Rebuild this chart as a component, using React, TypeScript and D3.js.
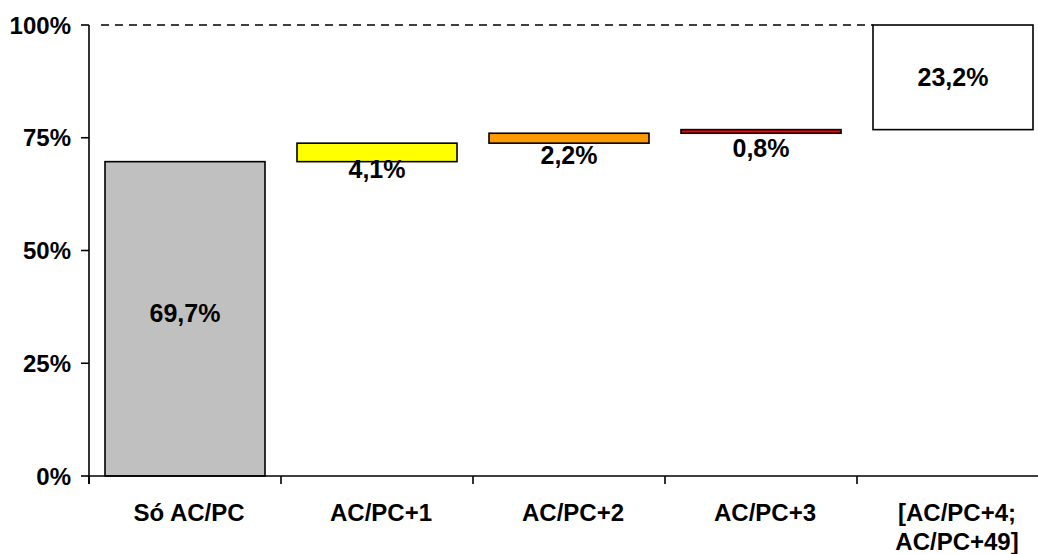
import React from "react";
import * as d3 from "d3";

// Share of cases by number of additional procedures (waterfall build-up to 100%)
const categories: string[][] = [
  ["Só AC/PC"],
  ["AC/PC+1"],
  ["AC/PC+2"],
  ["AC/PC+3"],
  ["[AC/PC+4;", "AC/PC+49]"],
];
const shares: number[] = [69.7, 4.1, 2.2, 0.8, 23.2];
const shareLabels: string[] = ["69,7%", "4,1%", "2,2%", "0,8%", "23,2%"];
const fills: string[] = ["#C0C0C0", "#FFFF00", "#FF9900", "#FF0000", "#FFFFFF"];
const yTicks: number[] = [0, 25, 50, 75, 100];
const yTickLabels: string[] = ["0%", "25%", "50%", "75%", "100%"];

const W = 1038;
const H = 554;
const FONT = "'Liberation Sans', Arial, Helvetica, sans-serif";

export default function App() {
  const x = d3
    .scaleBand<number>()
    .domain(d3.range(categories.length))
    .range([89, 1049])
    .paddingInner(1 / 6)
    .paddingOuter(1 / 12);
  const y = d3.scaleLinear().domain([0, 100]).range([476, 25]);

  const step = x.step();
  const halfGap = (step * x.paddingInner()) / 2;

  // cumulative bases for the waterfall segments
  const bases: number[] = [];
  shares.reduce((acc, v, i) => {
    bases[i] = acc;
    return acc + v;
  }, 0);

  const axisX = x.range()[0];

  return (
    <svg
      width={W}
      height={H}
      style={{ position: "absolute", left: 0, top: 0, background: "#fff" }}
      fontFamily={FONT}
    >
      {/* 100% reference line */}
      <line
        x1={axisX + 12}
        x2={x(4)!}
        y1={y(100)}
        y2={y(100)}
        stroke="#000"
        strokeWidth={1.6}
        strokeDasharray="8,6"
      />

      {/* bars */}
      {shares.map((v, i) => {
        const y0 = y(bases[i]);
        const y1 = y(bases[i] + v);
        return (
          <rect
            key={i}
            x={x(i)!}
            y={y1}
            width={x.bandwidth()}
            height={y0 - y1}
            fill={fills[i]}
            stroke="#000"
            strokeWidth={1.6}
          />
        );
      })}

      {/* value labels */}
      {shares.map((v, i) => {
        const mid = (y(bases[i]) + y(bases[i] + v)) / 2;
        const small = v < 10;
        const cy = small ? mid + 17 : i === 0 ? mid - 6 : mid;
        return (
          <text
            key={i}
            x={x(i)! + x.bandwidth() / 2}
            y={cy + 9}
            textAnchor="middle"
            fontSize={25}
            fontWeight="bold"
          >
            {shareLabels[i]}
          </text>
        );
      })}

      {/* y axis */}
      <line x1={axisX} x2={axisX} y1={y(100)} y2={y(0) + 8} stroke="#000" strokeWidth={1.6} />
      {yTicks.map((t, i) => (
        <g key={t}>
          <line x1={axisX - 8} x2={axisX} y1={y(t)} y2={y(t)} stroke="#000" strokeWidth={1.6} />
          <text
            x={71}
            y={y(t) + 8.5}
            textAnchor="end"
            fontSize={24}
            fontWeight="bold"
          >
            {yTickLabels[i]}
          </text>
        </g>
      ))}

      {/* x axis */}
      <line x1={axisX} x2={W} y1={y(0)} y2={y(0)} stroke="#000" strokeWidth={1.6} />
      {categories.map((_, i) => (
        <line
          key={i}
          x1={x(i)! - halfGap}
          x2={x(i)! - halfGap}
          y1={y(0)}
          y2={y(0) + 8}
          stroke="#000"
          strokeWidth={1.6}
        />
      ))}
      {categories.map((lines, i) => (
        <text
          key={i}
          x={x(i)! + x.bandwidth() / 2 + 4}
          y={521}
          textAnchor="middle"
          fontSize={24}
          fontWeight="bold"
        >
          {lines.map((l, j) => (
            <tspan key={j} x={x(i)! + x.bandwidth() / 2 + 4} dy={j === 0 ? 0 : 29}>
              {l}
            </tspan>
          ))}
        </text>
      ))}
    </svg>
  );
}
